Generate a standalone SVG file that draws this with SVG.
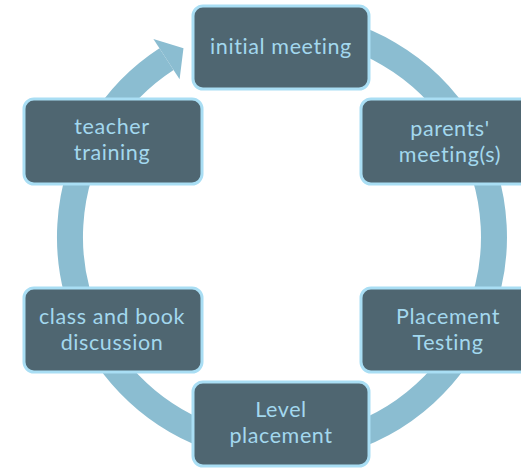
<svg xmlns="http://www.w3.org/2000/svg" width="521" height="469" viewBox="0 0 521 469">
<style>
.box{fill:#4f6671;stroke:#a9def4;stroke-width:3}
.lbl{font-family:Lato,"Open Sans",sans-serif;font-size:21.5px;letter-spacing:0.6px;fill:#a3d8ee;text-anchor:middle}
.ring{fill:none;stroke:#8bbdd1;stroke-width:26}
</style>
<rect width="521" height="469" fill="#ffffff"/>
<g id="connectors">
<path class="ring" d="M300.5,25.8 A212,212 0 1 1 166.5,59.2"/>
<polygon points="183.5,48.3 153.4,39.1 179.6,79.3" fill="#8bbdd1"/>
</g>
<g id="initial-meeting">
<rect class="box" x="193" y="6" width="176" height="83" rx="10"/>
<text class="lbl" x="281" y="54">initial meeting</text>
</g>
<g id="parents-meeting">
<rect class="box" x="361" y="99" width="177" height="85" rx="10"/>
<text class="lbl" x="450" y="136">parents'</text>
<text class="lbl" x="450" y="162">meeting(s)</text>
</g>
<g id="placement-testing">
<rect class="box" x="361" y="288" width="177" height="84" rx="10"/>
<text class="lbl" x="448" y="324">Placement</text>
<text class="lbl" x="448" y="350">Testing</text>
</g>
<g id="level-placement">
<rect class="box" x="193" y="382" width="176" height="84" rx="10"/>
<text class="lbl" x="281" y="417">Level</text>
<text class="lbl" x="281" y="443">placement</text>
</g>
<g id="class-book-discussion">
<rect class="box" x="24" y="288" width="178" height="84" rx="10"/>
<text class="lbl" x="112" y="324">class and book</text>
<text class="lbl" x="112" y="350">discussion</text>
</g>
<g id="teacher-training">
<rect class="box" x="24" y="99" width="178" height="85" rx="10"/>
<text class="lbl" x="112" y="134">teacher</text>
<text class="lbl" x="112" y="160">training</text>
</g>
</svg>
